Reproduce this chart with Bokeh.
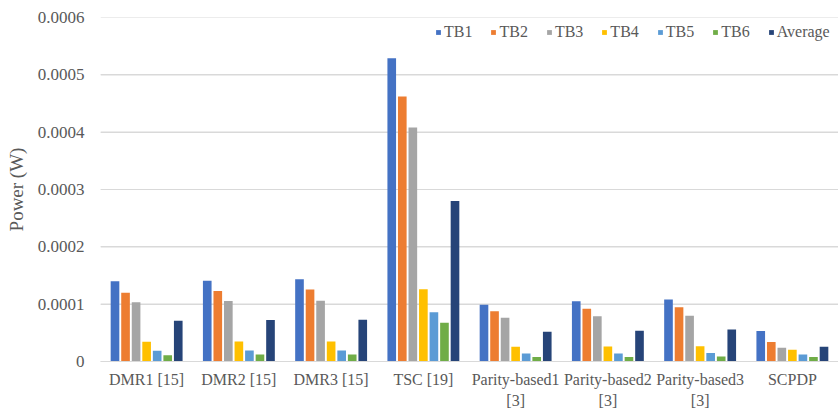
from bokeh.plotting import figure
from bokeh.models import (ColumnDataSource, FactorRange, FixedTicker, NumeralTickFormatter,
                          Legend, LegendItem, CategoricalAxis, CustomJSTickFormatter, BoxAnnotation)
from bokeh.transform import dodge
from bokeh.embed import file_html
from bokeh.resources import INLINE

categories = ["DMR1 [15]", "DMR2 [15]", "DMR3 [15]", "TSC [19]",
              "Parity-based1 [3]", "Parity-based2 [3]", "Parity-based3 [3]", "SCPDP"]
label_line1 = ["DMR1 [15]", "DMR2 [15]", "DMR3 [15]", "TSC [19]",
               "Parity-based1", "Parity-based2", "Parity-based3", "SCPDP"]
label_line2 = ["", "", "", "", "[3]", "[3]", "[3]", ""]

series_names = ["TB1", "TB2", "TB3", "TB4", "TB5", "TB6", "Average"]
tb1 = [0.000140, 0.000141, 0.0001435, 0.000529, 0.0000988, 0.000105, 0.000108, 0.000053]
tb2 = [0.000120, 0.000123, 0.0001254, 0.000462, 0.0000878, 0.0000918, 0.0000947, 0.0000338]
tb3 = [0.0001035, 0.0001057, 0.000106, 0.000408, 0.0000761, 0.000079, 0.000080, 0.0000239]
tb4 = [0.0000343, 0.000035, 0.000035, 0.000126, 0.0000256, 0.000026, 0.0000268, 0.0000204]
tb5 = [0.0000186, 0.000019, 0.000019, 0.000086, 0.000014, 0.000014, 0.000015, 0.0000122]
tb6 = [0.000011, 0.000012, 0.000012, 0.0000674, 0.000008, 0.000008, 0.0000087, 0.0000077]
average = [0.0000709, 0.0000726, 0.000073, 0.000280, 0.0000517, 0.0000535, 0.0000557, 0.0000256]

y_ticks = [0, 0.0001, 0.0002, 0.0003, 0.0004, 0.0005, 0.0006]

colors = ["#4472C4", "#ED7D31", "#A5A5A5", "#FFC000", "#5B9BD5", "#70AD47", "#264478"]

source = ColumnDataSource(dict(cat=categories, TB1=tb1, TB2=tb2, TB3=tb3, TB4=tb4,
                               TB5=tb5, TB6=tb6, Average=average))

FONT = "Liberation Serif"
GREY = "#595959"
Y_MAX = y_ticks[-1]
FRAME_H = 411 - 17 - 49

p = figure(x_range=FactorRange(*categories), y_range=(0, Y_MAX),
           width=838, height=411, output_backend="svg", toolbar_location=None,
           min_border_left=100, min_border_right=0, min_border_top=17, min_border_bottom=49)

# gridlines as thin filled boxes, drawn at glyph level beneath the bars
half = 0.6 * Y_MAX / FRAME_H
for t in y_ticks:
    p.renderers.append(BoxAnnotation(bottom=t - half, top=t + half, fill_color="#D9D9D9",
                                     fill_alpha=1, line_color=None, level="glyph"))

slot = 0.8 / 7
bar_w = slot * 0.82
items = []
for i, (name, col) in enumerate(zip(series_names, colors)):
    r = p.vbar(x=dodge("cat", (i - 3) * slot, range=p.x_range), top=name, width=bar_w,
               source=source, fill_color=col, line_color=None)
    items.append(LegendItem(label=name, renderers=[r]))

legend = Legend(items=items, orientation="horizontal", location=(335, 320),
                glyph_width=6, glyph_height=6, label_height=16, label_standoff=3,
                spacing=18, padding=0, margin=0, border_line_color=None,
                background_fill_alpha=0, label_text_font=FONT,
                label_text_font_size="16px", label_text_color=GREY)
p.add_layout(legend, "center")

p.outline_line_color = None
p.xgrid.grid_line_color = None
p.ygrid.grid_line_color = "#D9D9D9"

p.yaxis.ticker = FixedTicker(ticks=y_ticks)
p.yaxis.formatter = NumeralTickFormatter(format="0.[0000]")
p.yaxis.axis_line_color = None
p.yaxis.major_tick_line_color = None
p.yaxis.minor_tick_line_color = None
p.yaxis.major_tick_out = 0
p.yaxis.major_tick_in = 0
p.yaxis.major_label_standoff = 16
p.yaxis.major_label_text_font = FONT
p.yaxis.major_label_text_font_size = "17px"
p.yaxis.major_label_text_color = GREY
p.yaxis.axis_label = "Power (W)"
p.yaxis.axis_label_text_font = FONT
p.yaxis.axis_label_text_font_size = "19px"
p.yaxis.axis_label_text_font_style = "normal"
p.yaxis.axis_label_text_color = GREY
p.yaxis.axis_label_standoff = 8

fmt_code = "const i = cats.indexOf(tick); return i >= 0 ? labs[i] : tick;"

xa = p.xaxis[0]
xa.axis_line_color = "#D9D9D9"
xa.major_tick_line_color = None
xa.minor_tick_line_color = None
xa.major_tick_out = 0
xa.major_tick_in = 0
xa.major_label_standoff = 9
xa.formatter = CustomJSTickFormatter(args=dict(cats=categories, labs=label_line1), code=fmt_code)
xa.major_label_text_font = FONT
xa.major_label_text_font_size = "16px"
xa.major_label_text_color = GREY

xa2 = CategoricalAxis(axis_line_color=None, major_tick_line_color=None,
                      minor_tick_line_color=None, major_tick_out=0, major_tick_in=0,
                      major_label_standoff=1,
                      formatter=CustomJSTickFormatter(args=dict(cats=categories, labs=label_line2),
                                                      code=fmt_code),
                      major_label_text_font=FONT, major_label_text_font_size="16px",
                      major_label_text_color=GREY)
p.add_layout(xa2, "below")

open("out.html", "w").write(file_html(p, INLINE))
